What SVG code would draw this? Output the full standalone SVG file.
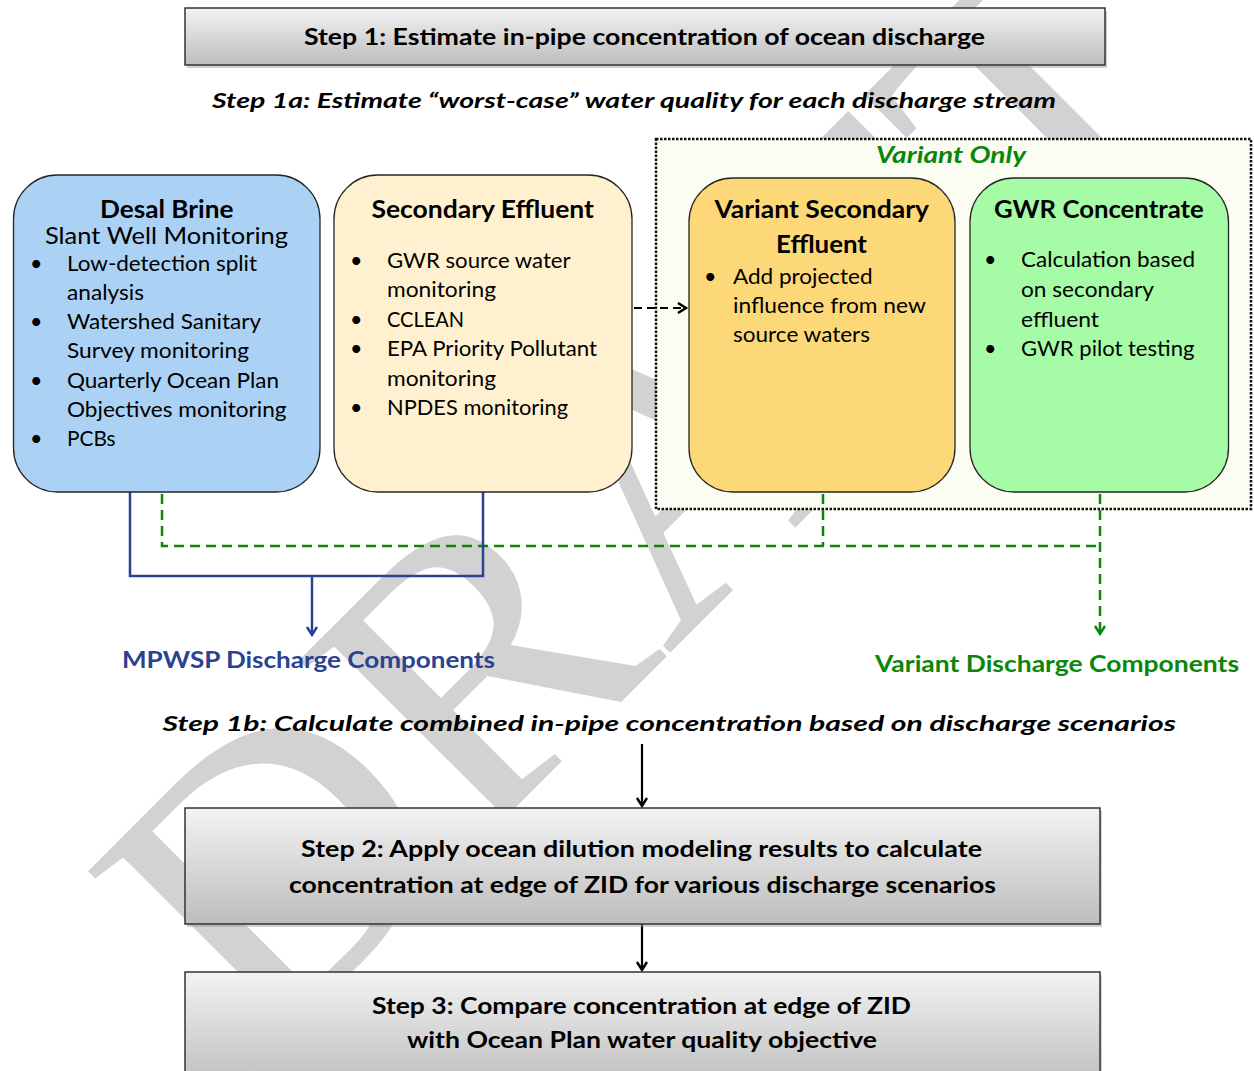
<svg xmlns="http://www.w3.org/2000/svg" width="1254" height="1071" viewBox="0 0 1254 1071">
<style>
.t{font-family:Lato,"Liberation Sans",sans-serif;fill:#000}
.b{font-weight:bold}
.step{font-size:23.5px;font-weight:bold}
.sub{font-size:21.5px;font-weight:bold;font-style:italic}
.ttl{font-size:24px;font-weight:bold}
.body{font-size:21.5px}
.box{stroke:#262626;stroke-width:1.3}
.stepbox{fill:url(#g);stroke:#333;stroke-width:1.5}
.shadow{fill:#9a9a9a;opacity:0.45}
.blue{stroke:#2b4290;stroke-width:2.5;fill:none}
.green{stroke:#0a860a;stroke-width:2.5;fill:none;stroke-dasharray:10 6}
.blk{stroke:#000;stroke-width:2.2;fill:none}
</style>
<defs>
<linearGradient id="g" x1="0" y1="0" x2="0" y2="1">
<stop offset="0" stop-color="#f3f3f3"/>
<stop offset="1" stop-color="#bdbdbd"/>
</linearGradient>
<marker id="ab" markerUnits="userSpaceOnUse" markerWidth="14" markerHeight="14" refX="10" refY="6" orient="auto">
<path d="M2,1 L10,6 L2,11" fill="none" stroke="#2b4290" stroke-width="2.5"/>
</marker>
<marker id="ag" markerUnits="userSpaceOnUse" markerWidth="14" markerHeight="14" refX="10" refY="6" orient="auto">
<path d="M2,1 L10,6 L2,11" fill="none" stroke="#0a860a" stroke-width="2.5"/>
</marker>
<marker id="ak" markerUnits="userSpaceOnUse" markerWidth="14" markerHeight="14" refX="10" refY="6" orient="auto">
<path d="M2,1 L10,6 L2,11" fill="none" stroke="#000" stroke-width="2.5"/>
</marker>
</defs>
<rect width="1254" height="1071" fill="#fff"/>
<text id="watermark" transform="translate(261.5 1061.5) rotate(-45) scale(1.02 0.97)" x="0" y="0" font-family="Liberation Serif,serif" font-size="405" fill="#d2d2d2">DRAFT</text>

<g id="step1">
<rect class="shadow" x="187" y="11" width="920" height="57"/>
<rect class="stepbox" x="185" y="8" width="920" height="57"/>
<text class="t step" x="304" y="45" textLength="681" lengthAdjust="spacingAndGlyphs">Step 1: Estimate in-pipe concentration of ocean discharge</text>
</g>
<g id="step1a">
<text class="t sub" x="212" y="108" textLength="844" lengthAdjust="spacingAndGlyphs">Step 1a: Estimate “worst-case” water quality for each discharge stream</text>
</g>

<g id="variant-group">
<rect x="656" y="139" width="595" height="370" fill="#fbfdf2" stroke="#111" stroke-width="2.5" stroke-dasharray="2.5 1.5"/>
<text class="t sub" style="fill:#0a860a;font-size:23px" x="876" y="163" textLength="150" lengthAdjust="spacingAndGlyphs">Variant Only</text>
</g>

<g id="connectors">
<path class="green" d="M162,494 V546 H1100 M823,494 V546 M1100,494 V634" marker-end="url(#ag)"/>
<path class="blue" d="M130,492 V576 H483 V492"/>
<path class="blue" d="M312,576 V635" marker-end="url(#ab)"/>
<path class="blk" d="M634,308 H686" stroke-dasharray="8 5" marker-end="url(#ak)"/>
<path class="blk" d="M642,744 V806" marker-end="url(#ak)"/>
<path class="blk" d="M642,924 V970" marker-end="url(#ak)"/>
</g>

<g id="desal">
<rect class="box" x="13.5" y="175" width="306.5" height="317" rx="44" fill="#abd2f5"/>
<text class="t ttl" x="100" y="218" textLength="133.5" lengthAdjust="spacingAndGlyphs">Desal Brine</text>
<text class="t body" style="font-size:23px" x="45" y="244" textLength="243" lengthAdjust="spacingAndGlyphs">Slant Well Monitoring</text>
<g class="t body">
<text x="30" y="271">•</text><text x="67" y="271" textLength="190" lengthAdjust="spacingAndGlyphs">Low-detection split</text>
<text x="67" y="300" textLength="77" lengthAdjust="spacingAndGlyphs">analysis</text>
<text x="30" y="329">•</text><text x="67" y="329" textLength="194" lengthAdjust="spacingAndGlyphs">Watershed Sanitary</text>
<text x="67" y="358" textLength="182" lengthAdjust="spacingAndGlyphs">Survey monitoring</text>
<text x="30" y="388">•</text><text x="67" y="388" textLength="212" lengthAdjust="spacingAndGlyphs">Quarterly Ocean Plan</text>
<text x="67" y="417" textLength="219.5" lengthAdjust="spacingAndGlyphs">Objectives monitoring</text>
<text x="30" y="446">•</text><text x="67" y="446" textLength="48.5" lengthAdjust="spacingAndGlyphs">PCBs</text>
</g>
</g>

<g id="secondary">
<rect class="box" x="334" y="175" width="298" height="317" rx="44" fill="#fff1cf"/>
<text class="t ttl" x="371.4" y="218" textLength="222.6" lengthAdjust="spacingAndGlyphs">Secondary Effluent</text>
<g class="t body">
<text x="350" y="268">•</text><text x="387" y="268" textLength="183.6" lengthAdjust="spacingAndGlyphs">GWR source water</text>
<text x="387" y="297" textLength="109" lengthAdjust="spacingAndGlyphs">monitoring</text>
<text x="350" y="327">•</text><text x="387" y="327" textLength="77" lengthAdjust="spacingAndGlyphs">CCLEAN</text>
<text x="350" y="356">•</text><text x="387" y="356" textLength="210" lengthAdjust="spacingAndGlyphs">EPA Priority Pollutant</text>
<text x="387" y="386" textLength="109" lengthAdjust="spacingAndGlyphs">monitoring</text>
<text x="350" y="415">•</text><text x="387" y="415" textLength="181" lengthAdjust="spacingAndGlyphs">NPDES monitoring</text>
</g>
</g>

<g id="variant-secondary">
<rect class="box" x="689" y="178" width="266" height="314" rx="44" fill="#fdd878"/>
<text class="t ttl" x="714.4" y="218" textLength="214.6" lengthAdjust="spacingAndGlyphs">Variant Secondary</text>
<text class="t ttl" x="776" y="253" textLength="91" lengthAdjust="spacingAndGlyphs">Effluent</text>
<g class="t body">
<text x="704" y="284">•</text><text x="733" y="284" textLength="139.6" lengthAdjust="spacingAndGlyphs">Add projected</text>
<text x="733" y="313" textLength="192.8" lengthAdjust="spacingAndGlyphs">influence from new</text>
<text x="733" y="342" textLength="137" lengthAdjust="spacingAndGlyphs">source waters</text>
</g>
</g>

<g id="gwr-concentrate">
<rect class="box" x="970" y="178" width="258.5" height="314" rx="44" fill="#a6fba6"/>
<text class="t ttl" x="994" y="218" textLength="209.8" lengthAdjust="spacingAndGlyphs">GWR Concentrate</text>
<g class="t body">
<text x="984" y="267">•</text><text x="1021" y="267" textLength="174" lengthAdjust="spacingAndGlyphs">Calculation based</text>
<text x="1021" y="297" textLength="133" lengthAdjust="spacingAndGlyphs">on secondary</text>
<text x="1021" y="327" textLength="78" lengthAdjust="spacingAndGlyphs">effluent</text>
<text x="984" y="356">•</text><text x="1021" y="356" textLength="173.4" lengthAdjust="spacingAndGlyphs">GWR pilot testing</text>
</g>
</g>

<g id="mpwsp-label">
<text class="t b" style="fill:#2b4290;font-size:22px" x="122" y="668" textLength="373" lengthAdjust="spacingAndGlyphs">MPWSP Discharge Components</text>
</g>
<g id="variant-label">
<text class="t b" style="fill:#0a860a;font-size:22px" x="875" y="672" textLength="364" lengthAdjust="spacingAndGlyphs">Variant Discharge Components</text>
</g>
<g id="step1b">
<text class="t sub" x="162.5" y="731" textLength="1013.5" lengthAdjust="spacingAndGlyphs">Step 1b: Calculate combined in-pipe concentration based on discharge scenarios</text>
</g>

<g id="step2">
<rect class="shadow" x="187" y="811" width="915" height="116"/>
<rect class="stepbox" x="185" y="808" width="915" height="116"/>
<text class="t step" x="301" y="857" textLength="681" lengthAdjust="spacingAndGlyphs">Step 2: Apply ocean dilution modeling results to calculate</text>
<text class="t step" x="289" y="893" textLength="707" lengthAdjust="spacingAndGlyphs">concentration at edge of ZID for various discharge scenarios</text>
</g>
<g id="step3">
<rect class="shadow" x="187" y="975" width="915" height="116"/>
<rect class="stepbox" x="185" y="972" width="915" height="116"/>
<text class="t step" x="372" y="1014" textLength="539" lengthAdjust="spacingAndGlyphs">Step 3: Compare concentration at edge of ZID</text>
<text class="t step" x="407" y="1048" textLength="470" lengthAdjust="spacingAndGlyphs">with Ocean Plan water quality objective</text>
</g>
</svg>
